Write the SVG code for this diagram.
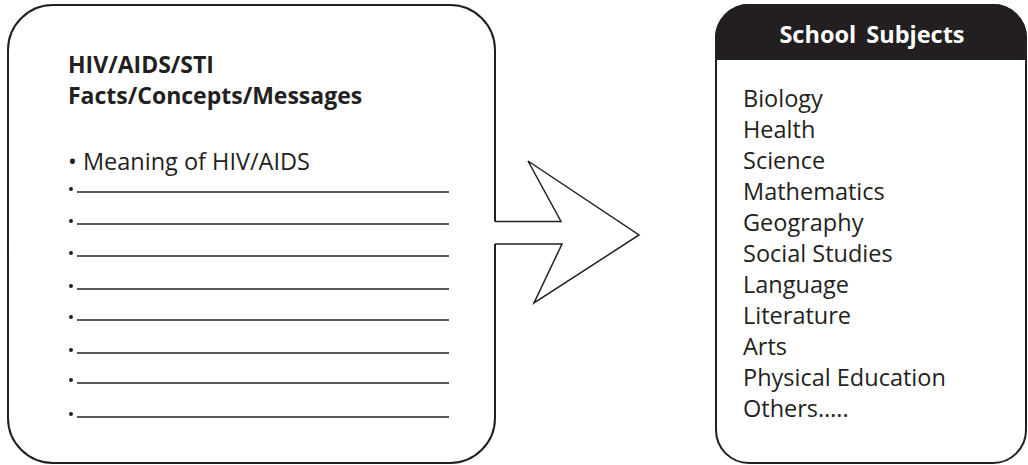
<svg xmlns="http://www.w3.org/2000/svg" width="1028" height="465" viewBox="0 0 1028 465">
<style>
.box{fill:#fff;stroke:#231f20;stroke-width:2}
.ttl{font-family:"Open Sans","Liberation Sans",sans-serif;font-weight:bold;font-size:23px;fill:#231f20}
.txt{font-family:"Open Sans","Liberation Sans",sans-serif;font-size:23.5px;fill:#231f20}
.hdr{font-family:"Open Sans","Liberation Sans",sans-serif;font-weight:bold;font-size:23.5px;fill:#fff;word-spacing:4px}
.ln{stroke:#231f20;stroke-width:1.3}
.dot{fill:#231f20}
.arr{fill:#fff;stroke:#231f20;stroke-width:1.5;stroke-linejoin:miter}
</style>
<rect width="1028" height="465" fill="#fff"/>
<g id="facts">
<rect class="box" x="8" y="5" width="487" height="458" rx="45" ry="45"/>
<text class="ttl" x="68" y="73">HIV/AIDS/STI</text>
<text class="ttl" x="68" y="104">Facts/Concepts/Messages</text>
<text class="txt" x="68" y="170">• Meaning of HIV/AIDS</text>
<g>
<circle class="dot" cx="71" cy="189" r="2"/><line class="ln" x1="77" y1="192" x2="449" y2="192"/>
<circle class="dot" cx="71" cy="221" r="2"/><line class="ln" x1="77" y1="224" x2="449" y2="224"/>
<circle class="dot" cx="71" cy="253" r="2"/><line class="ln" x1="77" y1="256" x2="449" y2="256"/>
<circle class="dot" cx="71" cy="286" r="2"/><line class="ln" x1="77" y1="289" x2="449" y2="289"/>
<circle class="dot" cx="71" cy="317" r="2"/><line class="ln" x1="77" y1="320" x2="449" y2="320"/>
<circle class="dot" cx="71" cy="350" r="2"/><line class="ln" x1="77" y1="353" x2="449" y2="353"/>
<circle class="dot" cx="71" cy="380" r="2"/><line class="ln" x1="77" y1="383" x2="449" y2="383"/>
<circle class="dot" cx="71" cy="414" r="2"/><line class="ln" x1="77" y1="417" x2="449" y2="417"/>
</g>
</g>
<g id="connectors">
<path d="M494,221.5 H561 L528,161 L639,235 L534,303 L562,244 H494 Z" fill="#fff" stroke="none"/>
<path class="arr" d="M495,221.5 H561 L528,161 L639,235 L534,303 L562,244 H495" fill="none"/>
</g>
<g id="subjects">
<rect class="box" x="716" y="5" width="310" height="458" rx="33" ry="33"/>
<path d="M716,59 V38 A33,33 0 0 1 749,5 H993 A33,33 0 0 1 1026,38 V59 Z" fill="#231f20" stroke="#231f20" stroke-width="2"/>
<text class="hdr" x="872" y="43" text-anchor="middle">School Subjects</text>
<text class="txt" x="743" y="107">Biology</text>
<text class="txt" x="743" y="138">Health</text>
<text class="txt" x="743" y="169">Science</text>
<text class="txt" x="743" y="200">Mathematics</text>
<text class="txt" x="743" y="231">Geography</text>
<text class="txt" x="743" y="262">Social Studies</text>
<text class="txt" x="743" y="293">Language</text>
<text class="txt" x="743" y="324">Literature</text>
<text class="txt" x="743" y="355">Arts</text>
<text class="txt" x="743" y="386">Physical Education</text>
<text class="txt" x="743" y="417">Others…..</text>
</g>
</svg>
